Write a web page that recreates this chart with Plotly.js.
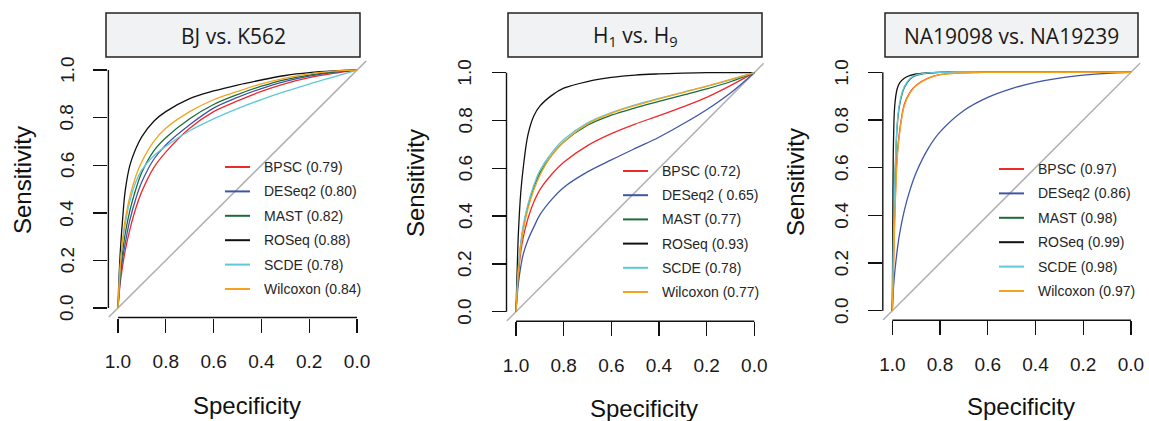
<!DOCTYPE html>
<html><head><meta charset="utf-8">
<script src="https://cdn.plot.ly/plotly-3.0.1.min.js"></script>
<style>html,body{margin:0;padding:0;background:#fff;}#chart{width:1149px;height:421px;}</style>
</head><body><div id="chart"></div>
<script>
// ---------- DATA ----------
const specificity = [1, 0.9975, 0.995, 0.99, 0.98, 0.97, 0.95, 0.925, 0.9, 0.85, 0.8, 0.7, 0.6, 0.5, 0.4, 0.3, 0.2, 0.1, 0];
const methods = ["BPSC", "DESeq2", "MAST", "ROSeq", "SCDE", "Wilcoxon"];
const methodColors = ["#ee2a2a", "#3f56a6", "#1d6b3a", "#111111", "#5ec8d8", "#f6a21c"];
const panelTitles = ["BJ vs. K562", "H<sub>1</sub> vs. H<sub>9</sub>", "NA19098 vs. NA19239"];
const aucText = [
  ["(0.79)", "(0.80)", "(0.82)", "(0.88)", "(0.78)", "(0.84)"],
  ["(0.72)", "( 0.65)", "(0.77)", "(0.93)", "(0.78)", "(0.77)"],
  ["(0.97)", "(0.86)", "(0.98)", "(0.99)", "(0.98)", "(0.97)"]
];
const tickValues = [0, 0.2, 0.4, 0.6, 0.8, 1];
const tickLabels = ["0.0", "0.2", "0.4", "0.6", "0.8", "1.0"];

// Panel 1: BJ vs. K562 (sensitivity at each specificity)
const p1_BPSC     = [0, .03, .06, .11, .18, .24, .33, .42, .49, .59, .655, .755, .825, .87, .91, .943, .968, .986, 1];
const p1_DESeq2   = [0, .035, .07, .13, .21, .27, .37, .46, .53, .625, .685, .77, .84, .885, .922, .952, .974, .99, 1];
const p1_MAST     = [0, .04, .08, .15, .24, .31, .41, .50, .57, .66, .715, .795, .855, .897, .932, .96, .979, .992, 1];
const p1_ROSeq    = [0, .08, .14, .24, .38, .49, .60, .67, .72, .785, .825, .88, .912, .937, .958, .977, .989, .996, 1];
const p1_SCDE     = [0, .05, .10, .18, .28, .35, .45, .53, .58, .64, .68, .745, .795, .838, .876, .91, .941, .97, 1];
const p1_Wilcoxon = [0, .05, .10, .18, .29, .37, .47, .555, .615, .70, .755, .825, .875, .91, .942, .966, .984, .995, 1];

// Panel 2: H1 vs. H9
const p2_BPSC     = [0, .05, .09, .16, .25, .31, .39, .46, .51, .575, .625, .695, .745, .785, .82, .857, .897, .946, 1];
const p2_DESeq2   = [0, .04, .07, .12, .19, .24, .30, .355, .405, .47, .52, .585, .635, .683, .73, .785, .845, .915, 1];
const p2_MAST     = [0, .05, .10, .18, .28, .35, .44, .52, .58, .655, .71, .78, .822, .853, .88, .906, .932, .962, 1];
const p2_ROSeq    = [0, .10, .18, .33, .50, .60, .74, .82, .86, .905, .935, .963, .98, .99, .995, .998, 1, 1, 1];
const p2_SCDE     = [0, .06, .11, .19, .29, .36, .45, .53, .59, .665, .72, .79, .833, .865, .892, .918, .943, .97, 1];
const p2_Wilcoxon = [0, .05, .09, .17, .27, .34, .43, .51, .57, .655, .71, .785, .83, .862, .89, .917, .944, .972, 1];

// Panel 3: NA19098 vs. NA19239
const p3_BPSC     = [0, .10, .20, .40, .65, .75, .865, .918, .946, .976, .99, .998, 1, 1, 1, 1, 1, 1, 1];
const p3_DESeq2   = [0, .06, .10, .16, .25, .32, .42, .51, .58, .68, .75, .84, .895, .932, .958, .976, .988, .996, 1];
const p3_MAST     = [0, .20, .32, .52, .77, .86, .935, .972, .987, .997, 1, 1, 1, 1, 1, 1, 1, 1, 1];
const p3_ROSeq    = [0, .50, .72, .86, .93, .955, .975, .987, .993, .998, 1, 1, 1, 1, 1, 1, 1, 1, 1];
const p3_SCDE     = [0, .20, .33, .53, .78, .87, .94, .975, .989, .998, 1, 1, 1, 1, 1, 1, 1, 1, 1];
const p3_Wilcoxon = [0, .10, .19, .37, .63, .74, .86, .915, .945, .975, .99, .998, 1, 1, 1, 1, 1, 1, 1];

const panelSeries = [
  [p1_BPSC, p1_DESeq2, p1_MAST, p1_ROSeq, p1_SCDE, p1_Wilcoxon],
  [p2_BPSC, p2_DESeq2, p2_MAST, p2_ROSeq, p2_SCDE, p2_Wilcoxon],
  [p3_BPSC, p3_DESeq2, p3_MAST, p3_ROSeq, p3_SCDE, p3_Wilcoxon]
];

// ---------- LAYOUT ----------
const W = 1149, H = 421;
const boxes = [
  {l:108.4, r:366.6, t:60.5, b:317.5, sL:106, sR:360, legL:225, legT:262, legY:167, legDy:24.4, spX:247, spY:405, seX:22, seY:180},
  {l:506.5, r:763.8, t:63.1, b:321.3, sL:508, sR:762, legL:623, legT:660, legY:171, legDy:24.2, spX:644, spY:408, seX:415, seY:183},
  {l:882.8, r:1140.5, t:62.8, b:320.2, sL:885, sR:1138, legL:999, legT:1036, legY:169, legDy:24.4, spX:1021, spY:406, seX:795, seY:182}
];
const fx = p => p / W, fy = p => 1 - p / H;
const xRange = [1.04, -0.04], yRange = [-0.04, 1.04];
const tickFont = {family: "Liberation Sans, Arial, sans-serif", size: 19, color: "#1a1a1a"};

const data = [], shapes = [], annotations = [];
const layout = {
  width: W, height: H, margin: {l:0, r:0, t:0, b:0},
  paper_bgcolor: "#fff", plot_bgcolor: "#fff", showlegend: false
};

boxes.forEach((b, i) => {
  const sfx = i === 0 ? "" : String(i + 1);
  const xa = "x" + sfx, ya = "y" + sfx;
  layout["xaxis" + sfx] = {
    domain: [fx(b.l), fx(b.r)], range: xRange, anchor: ya,
    tickvals: tickValues, ticktext: tickLabels, ticks: "outside", ticklen: 14, tickwidth: 1.4, tickcolor: "#111",
    showline: false, showgrid: false, zeroline: false, tickfont: tickFont, ticklabelstandoff: 13, fixedrange: true
  };
  layout["yaxis" + sfx] = {
    domain: [fy(b.b), fy(b.t)], range: yRange, anchor: xa,
    tickvals: tickValues, ticks: "outside", ticklen: 14, tickwidth: 1.4, tickcolor: "#111",
    showticklabels: false, showline: false, showgrid: false, zeroline: false, fixedrange: true
  };
  // y tick labels, rotated as in R (las = 0), placed at the axis' own tick values
  tickValues.forEach((v, j) => {
    annotations.push({xref: "paper", yref: ya, x: fx(b.l - 41.5), y: v, xanchor: "center", yanchor: "middle",
                      showarrow: false, textangle: -90, text: tickLabels[j], font: tickFont});
  });
  // diagonal reference line across the whole plotting region
  data.push({x: xRange, y: xRange.map(v => 1 - v), xaxis: xa, yaxis: ya, mode: "lines",
             line: {color: "#b0b0b0", width: 1.5}, hoverinfo: "skip"});
  panelSeries[i].forEach((ser, k) => {
    data.push({x: specificity, y: ser, xaxis: xa, yaxis: ya, mode: "lines", name: methods[k],
               line: {color: methodColors[k], width: 1.3, shape: "spline", smoothing: 1}});
    const yy = b.legY + k * b.legDy;
    shapes.push({type: "line", xref: "paper", yref: "paper", x0: fx(b.legL), x1: fx(b.legL + 25), y0: fy(yy), y1: fy(yy),
                 line: {color: methodColors[k], width: 2}});
    annotations.push({xref: "paper", yref: "paper", x: fx(b.legT), y: fy(yy), xanchor: "left", yanchor: "middle",
                      showarrow: false, text: methods[k] + " " + aucText[i][k],
                      font: {family: "Liberation Sans, Arial, sans-serif", size: 14, color: "#262626"}});
  });
  // R-style axis lines spanning the tick range only
  shapes.push({type: "line", xref: xa + " domain", yref: ya, x0: 0, x1: 0, y0: 0, y1: 1, line: {color: "#111", width: 1.4}});
  shapes.push({type: "line", xref: xa, yref: ya + " domain", x0: 1, x1: 0, y0: 0, y1: 0, line: {color: "#111", width: 1.4}});
  // strip title box
  shapes.push({type: "rect", xref: "paper", yref: "paper", x0: fx(b.sL), x1: fx(b.sR), y0: fy(57), y1: fy(13),
               fillcolor: "#f1f2f3", line: {color: "#222", width: 1.5}});
  annotations.push({xref: "paper", yref: "paper", x: fx((b.sL + b.sR) / 2), y: fy(36), xanchor: "center", yanchor: "middle",
                    showarrow: false, text: panelTitles[i], font: {family: "Open Sans, sans-serif", size: 21, color: "#1a1a1a"}});
  // axis titles
  annotations.push({xref: "paper", yref: "paper", x: fx(b.spX), y: fy(b.spY), xanchor: "center", yanchor: "middle",
                    showarrow: false, text: "Specificity", font: {family: "Liberation Sans, Arial, sans-serif", size: 24, color: "#111"}});
  annotations.push({xref: "paper", yref: "paper", x: fx(b.seX), y: fy(b.seY), xanchor: "center", yanchor: "middle",
                    showarrow: false, textangle: -90, text: "Sensitivity", font: {family: "Liberation Sans, Arial, sans-serif", size: 24, color: "#111"}});
});
layout.shapes = shapes;
layout.annotations = annotations;

Plotly.newPlot("chart", data, layout, {displayModeBar: false, staticPlot: true});
</script></body></html>
